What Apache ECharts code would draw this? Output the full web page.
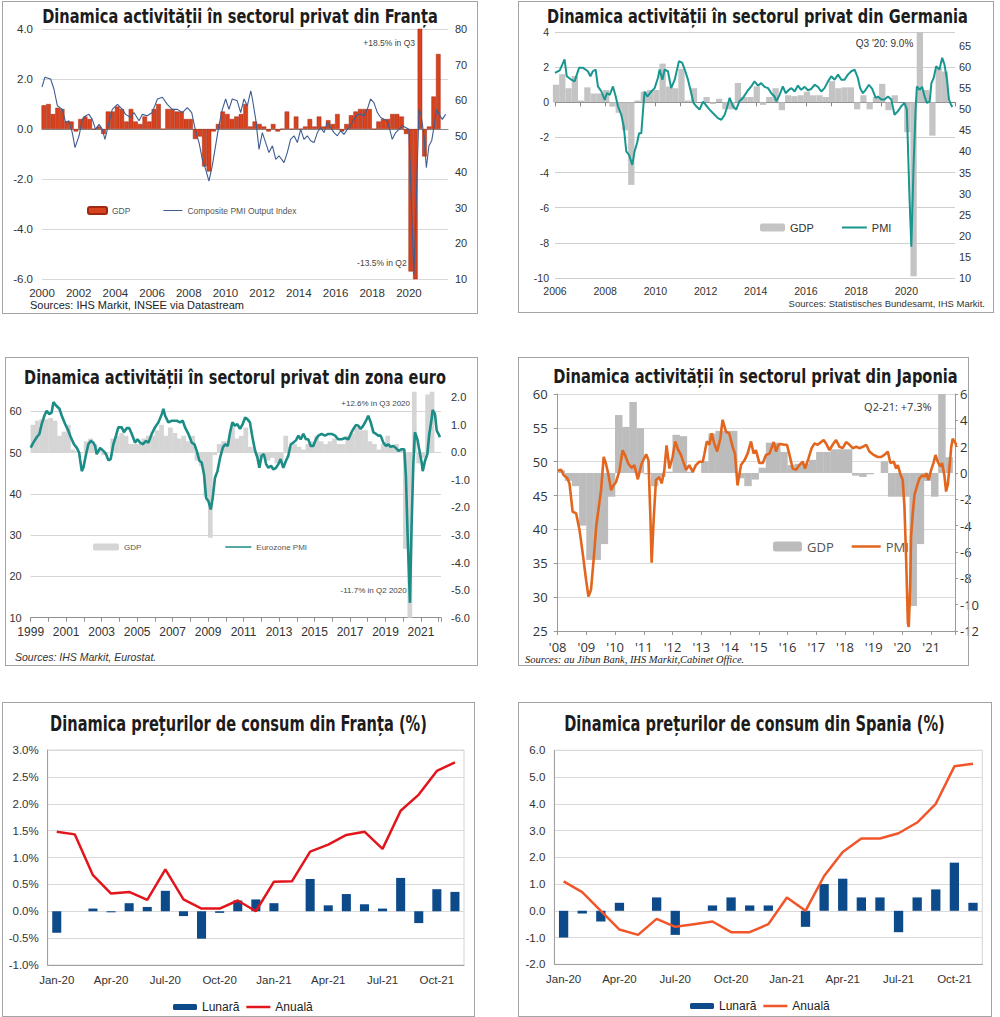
<!DOCTYPE html>
<html lang="ro">
<head>
<meta charset="utf-8">
<title>Dinamica activității și a prețurilor</title>
<script src="https://cdn.jsdelivr.net/npm/echarts@6/dist/echarts.min.js"></script>
<style>
html,body{margin:0;padding:0;background:#fff;}
body{width:1000px;height:1017px;position:relative;overflow:hidden;}
.chart{position:absolute;}
.frame{position:absolute;box-sizing:border-box;border:1px solid #a3a3a3;pointer-events:none;}
</style>
</head>
<body>
<div class="chart" id="c1" style="left:2px;top:1px;width:476px;height:313px"></div>
<div class="chart" id="c2" style="left:518px;top:1px;width:476px;height:312px"></div>
<div class="chart" id="c3" style="left:5px;top:357px;width:473px;height:309px"></div>
<div class="chart" id="c4" style="left:518px;top:357px;width:475px;height:309px"></div>
<div class="chart" id="c5" style="left:2px;top:702px;width:473px;height:315px"></div>
<div class="chart" id="c6" style="left:518px;top:702px;width:474px;height:315px"></div>
<div class="frame" style="left:2px;top:1px;width:476px;height:313px"></div>
<div class="frame" style="left:518px;top:1px;width:476px;height:312px"></div>
<div class="frame" style="left:5px;top:357px;width:473px;height:309px"></div>
<div class="frame" style="left:518px;top:357px;width:451px;height:309px"></div>
<div class="frame" style="left:2px;top:702px;width:473px;height:315px"></div>
<div class="frame" style="left:518px;top:702px;width:474px;height:315px"></div>
<script>
// ================= DATA =================
// --- France: GDP q/q % (quarterly from 2000 Q1) and Composite PMI (date, value)
const frGdpStart = 2000;
const frGdp = [
  0.95, 1.0, 0.6, 0.85,   0.8, 0.3, 0.3, -0.1,   0.4, 0.5, 0.4, 0.0,   0.1, -0.2, 0.7, 0.7,
  0.9, 0.8, 0.3, 0.8,     0.3, 0.2, 0.5, 0.3,    0.8, 1.0, 0.0, 0.8,   0.8, 0.7, 0.7, 0.4,
  0.4, -0.4, -0.3, -1.5,  -1.7, -0.1, 0.2, 0.7,  0.6, 0.4, 0.5, 0.6,   1.0, 0.1, 0.3, 0.2,
  0.1, -0.1, 0.2, -0.1,   0.0, 0.7, 0.0, 0.5,    0.0, 0.1, 0.4, 0.1,   0.5, 0.1, 0.35, 0.2,
  0.6, -0.1, 0.2, 0.55,   0.7, 0.8, 0.8, 0.8,    0.0, 0.3, 0.4, 0.4,   0.6, 0.6, 0.5, -0.2,
  -5.7, -13.5, 18.5, -1.1, 0.1, 1.3, 3.0
];
const frPmi = [
  [2000.0,63.7],[2000.16,66.5],[2000.47,66.0],[2000.65,63.2],[2000.84,58.5],[2001.11,57.5],[2001.29,53.8],[2001.47,54.3],
  [2001.65,51.0],[2001.8,46.8],[2002.02,50.1],[2002.2,54.7],[2002.38,55.7],[2002.56,56.1],[2002.74,54.7],[2002.92,51.9],
  [2003.11,53.3],[2003.29,51.9],[2003.43,49.1],[2003.65,53.8],[2003.83,57.5],[2004.11,58.9],[2004.38,57.5],[2004.56,56.1],
  [2004.83,55.2],[2005.01,56.6],[2005.29,54.3],[2005.47,56.1],[2005.74,55.7],[2006.01,56.6],[2006.29,60.4],[2006.56,60.9],
  [2006.83,58.9],[2007.1,57.5],[2007.38,57.5],[2007.65,56.6],[2007.92,58.0],[2008.16,56.6],[2008.37,51.5],[2008.56,48.2],
  [2008.74,43.5],[2008.92,40.7],[2009.1,37.4],[2009.28,41.7],[2009.46,47.3],[2009.64,52.9],[2009.83,57.5],[2010.01,60.4],
  [2010.19,57.5],[2010.37,60.4],[2010.64,59.9],[2010.83,56.6],[2011.01,60.4],[2011.19,58.5],[2011.38,62.7],[2011.47,60.4],
  [2011.65,54.7],[2011.83,46.3],[2012.01,51.0],[2012.19,48.2],[2012.37,45.4],[2012.56,47.3],[2012.74,43.5],[2012.92,44.5],
  [2013.19,42.6],[2013.37,45.4],[2013.55,49.1],[2013.74,50.1],[2013.92,48.2],[2014.1,51.9],[2014.28,49.1],[2014.46,50.1],
  [2014.64,48.7],[2014.83,48.2],[2015.01,51.0],[2015.19,52.4],[2015.37,51.0],[2015.55,53.8],[2015.73,52.4],[2015.92,51.0],
  [2016.1,50.1],[2016.28,51.5],[2016.46,50.5],[2016.64,51.9],[2016.82,52.9],[2017.01,54.7],[2017.19,56.1],[2017.37,56.1],
  [2017.55,55.7],[2017.73,57.5],[2017.91,60.4],[2018.09,59.4],[2018.28,56.6],[2018.46,55.2],[2018.64,54.7],[2018.82,54.3],
  [2019.0,51.0],[2019.09,49.1],[2019.28,51.0],[2019.46,51.9],[2019.64,52.9],[2019.82,52.4],[2020.0,51.9],[2020.15,29.0],
  [2020.27,11.1],[2020.4,32.0],[2020.55,57.5],[2020.66,56.0],[2020.82,50.1],[2020.95,41.2],[2021.09,47.3],[2021.24,48.7],
  [2021.36,52.4],[2021.51,57.5],[2021.64,56.1],[2021.82,54.7],[2022.0,56.1]
];

// --- Germany: GDP q/q % (quarterly from 2006 Q1) and PMI
const deGdpStart = 2006;
const deGdp = [
  1.0, 1.6, 0.8, 1.5,    0.1, 0.85, 0.5, 0.5,   0.7, -0.25, -0.6, -1.6,  -4.7, 0.1, 0.6, 0.7,
  0.7, 2.2, 0.9, 0.8,    1.9, 0.1, 0.8, 0.0,    0.3, -0.1, 0.2, -0.4,    -0.4, 1.1, 0.3, 0.3,
  0.9, -0.15, 0.3, 0.8,  -0.45, 0.4, 0.35, 0.4, 0.6, 0.4, 0.4, 0.3,      1.2, 0.8, 0.85, 0.85,
  -0.4, 0.4, -0.4, 0.3,  1.05, -0.45, 0.4, 0.0, -1.7, -9.9, 9.0, 0.7,    -1.9, 2.0, 1.75
];
const dePmi = [
  [2006.0,58.6],[2006.19,59.2],[2006.38,61.8],[2006.47,57.8],[2006.65,57.0],[2006.78,56.6],[2006.96,59.8],[2007.12,59.8],
  [2007.31,59.0],[2007.41,57.8],[2007.51,59.0],[2007.62,59.4],[2007.71,55.4],[2007.85,54.2],[2007.98,52.2],[2008.07,53.8],
  [2008.18,53.4],[2008.31,55.4],[2008.42,53.0],[2008.51,50.7],[2008.64,48.7],[2008.74,45.9],[2008.84,40.0],[2008.95,39.2],
  [2009.08,36.8],[2009.17,40.0],[2009.27,42.0],[2009.35,44.3],[2009.44,44.3],[2009.51,49.9],[2009.57,54.2],[2009.68,53.0],
  [2009.84,54.2],[2009.97,55.0],[2010.1,57.4],[2010.17,59.4],[2010.28,57.0],[2010.37,59.4],[2010.5,59.0],[2010.63,55.0],
  [2010.77,57.0],[2010.94,61.4],[2011.07,61.0],[2011.17,59.4],[2011.3,57.0],[2011.43,53.8],[2011.52,51.5],[2011.63,50.7],
  [2011.76,49.9],[2011.9,51.8],[2012.0,51.1],[2012.16,49.9],[2012.36,48.7],[2012.49,47.9],[2012.63,47.5],[2012.76,48.7],
  [2012.85,50.3],[2012.96,52.7],[2013.09,50.7],[2013.22,49.9],[2013.35,51.9],[2013.49,52.7],[2013.69,54.5],[2013.82,55.4],
  [2013.95,56.6],[2014.09,55.6],[2014.22,56.2],[2014.35,55.3],[2014.49,55.0],[2014.62,53.8],[2014.75,53.0],[2014.82,51.9],
  [2014.95,53.4],[2015.08,55.4],[2015.19,53.8],[2015.32,54.6],[2015.42,55.0],[2015.55,54.2],[2015.68,55.6],[2015.81,54.6],
  [2015.95,55.3],[2016.08,54.5],[2016.21,54.8],[2016.35,55.8],[2016.48,55.3],[2016.61,54.2],[2016.74,55.0],[2016.88,56.6],
  [2017.01,57.8],[2017.14,57.0],[2017.28,58.2],[2017.41,57.0],[2017.54,57.0],[2017.67,58.2],[2017.81,59.0],[2017.94,59.4],
  [2018.07,57.4],[2018.16,55.0],[2018.27,53.8],[2018.38,54.6],[2018.51,55.8],[2018.64,54.8],[2018.78,52.7],[2018.87,53.0],
  [2019.0,52.3],[2019.13,52.3],[2019.27,53.0],[2019.4,52.3],[2019.53,48.7],[2019.66,49.5],[2019.8,50.7],[2019.93,51.5],
  [2020.02,49.9],[2020.13,28.5],[2020.2,17.4],[2020.29,36.8],[2020.37,49.9],[2020.42,55.4],[2020.53,54.6],[2020.63,55.3],
  [2020.73,53.0],[2020.82,51.5],[2020.93,51.8],[2021.0,56.2],[2021.09,57.4],[2021.19,60.2],[2021.32,59.4],[2021.43,62.2],
  [2021.52,60.6],[2021.62,57.0],[2021.7,52.3],[2021.75,51.5],[2021.83,50.5]
];

// --- Euro area: GDP q/q % (quarterly from 1999 Q1) and Eurozone PMI
const euGdpStart = 1999;
const euGdp = [
  1.0, 1.15, 1.2, 1.2,   1.25, 1.15, 0.6, 0.75,  1.0, 0.1, 0.05, 0.0,   0.4, 0.5, 0.3, 0.1,
  -0.1, 0.0, 0.5, 0.6,   0.7, 0.6, 0.3, 0.3,     0.3, 0.5, 0.6, 0.6,    0.8, 1.0, 0.6, 0.9,
  0.7, 0.5, 0.6, 0.4,    0.6, -0.3, -0.5, -1.6,  -3.1, -0.1, 0.3, 0.4,  0.4, 1.0, 0.5, 0.6,
  0.9, 0.2, 0.1, -0.3,   -0.1, -0.3, -0.2, -0.4, -0.3, 0.6, 0.2, 0.3,   0.2, 0.1, 0.3, 0.4,
  0.6, 0.4, 0.3, 0.4,    0.5, 0.3, 0.3, 0.6,     0.7, 0.9, 0.8, 0.8,    0.4, 0.3, 0.1, 0.3,
  0.6, 0.2, 0.3, 0.1,    -3.5, -11.7, 12.6, -0.4, -0.2, 2.1, 2.3
];
const euPmi = [
  [1999.0,51.2],[1999.15,52.4],[1999.34,53.7],[1999.49,54.5],[1999.62,56.9],[1999.77,58.9],[1999.9,60.1],[2000.05,59.3],
  [2000.18,59.7],[2000.28,62.2],[2000.43,61.4],[2000.62,60.6],[2000.75,58.9],[2000.94,56.9],[2001.12,55.3],[2001.26,53.7],
  [2001.44,52.0],[2001.59,51.2],[2001.73,50.0],[2001.78,48.4],[2001.88,45.5],[2001.97,46.3],[2002.12,49.6],[2002.25,52.0],
  [2002.38,52.8],[2002.53,52.4],[2002.63,51.6],[2002.72,49.6],[2002.82,50.4],[2002.91,51.1],[2003.1,50.4],[2003.25,49.6],
  [2003.38,48.1],[2003.51,48.4],[2003.66,52.0],[2003.81,54.1],[2003.94,56.1],[2004.13,56.1],[2004.26,54.9],[2004.41,55.9],
  [2004.56,55.9],[2004.7,54.5],[2004.88,52.4],[2005.02,53.2],[2005.17,52.4],[2005.32,52.0],[2005.5,52.8],[2005.64,52.4],
  [2005.82,54.5],[2006.01,56.1],[2006.2,57.3],[2006.39,59.3],[2006.48,60.6],[2006.58,58.9],[2006.76,57.3],[2006.95,57.7],
  [2007.23,57.7],[2007.42,57.3],[2007.57,57.7],[2007.7,56.1],[2007.89,54.5],[2008.08,52.4],[2008.23,52.0],[2008.36,50.4],
  [2008.51,48.0],[2008.64,47.6],[2008.77,44.7],[2008.89,39.0],[2009.02,38.2],[2009.15,36.2],[2009.26,39.0],[2009.39,43.9],
  [2009.53,45.5],[2009.68,48.8],[2009.83,51.2],[2009.96,52.0],[2010.11,51.6],[2010.24,54.9],[2010.37,57.3],[2010.52,56.5],
  [2010.65,56.9],[2010.8,55.7],[2010.95,56.9],[2011.09,58.5],[2011.21,58.1],[2011.36,57.3],[2011.5,53.7],[2011.65,50.4],
  [2011.78,48.8],[2011.89,46.3],[2012.02,49.2],[2012.15,49.6],[2012.27,47.2],[2012.4,46.3],[2012.55,46.8],[2012.68,45.9],
  [2012.83,46.3],[2012.96,47.2],[2013.09,48.4],[2013.24,46.3],[2013.39,48.0],[2013.52,49.2],[2013.66,52.0],[2013.81,52.4],
  [2013.96,53.0],[2014.09,54.1],[2014.22,53.2],[2014.37,54.5],[2014.52,53.2],[2014.65,53.2],[2014.78,51.6],[2014.93,51.6],
  [2015.08,53.2],[2015.22,54.1],[2015.4,54.5],[2015.59,54.1],[2015.78,54.5],[2015.97,54.5],[2016.16,54.1],[2016.34,53.2],
  [2016.53,53.2],[2016.72,53.5],[2016.91,53.2],[2017.04,54.5],[2017.19,55.7],[2017.34,56.7],[2017.47,56.5],[2017.6,55.7],
  [2017.75,56.5],[2017.9,57.7],[2018.03,58.9],[2018.17,57.3],[2018.32,54.9],[2018.47,54.5],[2018.6,54.1],[2018.73,54.1],
  [2018.88,52.4],[2019.03,51.6],[2019.16,52.0],[2019.29,51.4],[2019.44,51.6],[2019.59,51.1],[2019.73,50.4],[2019.91,50.8],
  [2020.06,50.8],[2020.15,44.5],[2020.25,29.7],[2020.38,13.6],[2020.47,31.9],[2020.57,47.2],[2020.66,54.9],[2020.8,53.2],
  [2020.95,49.6],[2021.04,47.6],[2021.1,45.5],[2021.23,48.0],[2021.36,49.6],[2021.47,54.5],[2021.6,58.1],[2021.66,60.3],
  [2021.79,59.3],[2021.89,55.3],[2021.98,54.6],[2022.07,53.7]
];

// --- Japan: GDP y/y % (quarterly from 2008 Q1) and PMI
const jpGdpStart = 2008;
const jpGdp = [
  0.2, -0.6, -1.0, -4.0,  -6.6, -6.6, -5.4, -1.8,  4.4, 3.5, 5.4, 3.4,   -0.1, -1.0, -0.3, 0.1,
  2.9, 2.8, 0.1, 0.0,     0.9, 3.0, 3.2, 3.2,      3.2, -0.4, -1.0, -0.5, 0.4, 2.3, 2.3, 1.6,
  0.6, 0.7, 0.7, 1.0,     1.6, 1.6, 1.8, 1.8,      1.8, -0.2, -0.3, -0.1, 0.0, 0.9, -1.8, -1.8,
  -1.8, -10.1, -5.4, -0.6, -1.8, 7.3, 1.2
];
const jpPmi = [
  [2008.0,48.7],[2008.12,48.8],[2008.21,48.0],[2008.33,47.6],[2008.41,46.8],[2008.52,42.6],[2008.64,42.4],[2008.76,39.9],
  [2008.87,36.5],[2008.99,32.5],[2009.07,30.1],[2009.16,31.1],[2009.25,35.5],[2009.34,40.4],[2009.43,43.3],[2009.51,45.8],
  [2009.6,50.7],[2009.68,49.7],[2009.76,48.2],[2009.86,45.8],[2009.94,46.5],[2010.03,47.0],[2010.15,48.7],[2010.26,51.7],
  [2010.35,50.9],[2010.46,49.7],[2010.58,49.1],[2010.67,49.5],[2010.79,47.4],[2010.92,49.7],[2011.08,51.1],[2011.16,50.2],
  [2011.23,41.4],[2011.27,35.1],[2011.34,41.4],[2011.42,47.3],[2011.54,47.7],[2011.62,46.8],[2011.71,48.7],[2011.79,52.4],
  [2011.89,49.0],[2012.0,50.7],[2012.09,53.0],[2012.2,51.7],[2012.29,51.0],[2012.47,48.8],[2012.58,49.5],[2012.7,48.5],
  [2012.81,49.5],[2012.93,50.0],[2013.05,50.0],[2013.1,51.0],[2013.19,53.0],[2013.28,52.5],[2013.36,54.2],[2013.45,52.7],
  [2013.55,51.5],[2013.66,53.4],[2013.74,56.2],[2013.86,54.4],[2013.97,54.2],[2014.09,52.2],[2014.17,51.2],[2014.26,46.5],
  [2014.38,49.5],[2014.5,50.2],[2014.61,51.2],[2014.73,53.0],[2014.82,51.2],[2014.9,51.7],[2015.02,49.8],[2015.14,49.8],
  [2015.25,51.0],[2015.37,51.2],[2015.52,52.9],[2015.6,51.5],[2015.68,52.5],[2015.78,52.6],[2015.87,52.5],[2015.98,52.5],
  [2016.07,51.0],[2016.18,49.0],[2016.3,48.8],[2016.41,49.5],[2016.53,50.0],[2016.61,49.0],[2016.73,50.5],[2016.84,52.0],
  [2016.94,52.7],[2017.05,52.5],[2017.17,52.9],[2017.26,53.2],[2017.34,52.7],[2017.46,51.7],[2017.57,52.5],[2017.69,53.2],
  [2017.81,52.2],[2017.92,52.0],[2018.04,52.9],[2018.16,52.5],[2018.27,52.0],[2018.39,52.2],[2018.5,52.0],[2018.62,52.2],
  [2018.74,52.5],[2018.85,51.5],[2019.0,51.0],[2019.14,50.7],[2019.26,50.7],[2019.37,51.0],[2019.49,51.5],[2019.58,49.8],
  [2019.7,50.0],[2019.78,49.0],[2019.84,49.5],[2019.92,48.3],[2020.01,47.3],[2020.07,43.4],[2020.13,35.5],[2020.19,26.1],
  [2020.22,25.6],[2020.27,31.5],[2020.3,38.9],[2020.36,42.4],[2020.42,45.1],[2020.5,46.3],[2020.59,47.5],[2020.69,48.0],
  [2020.77,47.8],[2020.83,48.3],[2020.91,47.3],[2021.0,48.8],[2021.08,49.8],[2021.15,51.0],[2021.23,50.0],[2021.31,49.3],
  [2021.38,49.8],[2021.46,48.0],[2021.52,45.6],[2021.58,46.6],[2021.64,49.3],[2021.7,52.2],[2021.75,53.4],[2021.85,52.7],
  [2021.89,52.2]
];

// --- Consumer prices (monthly, Jan-20 .. Nov-21)
const cpiMonths = ['Jan-20','Feb-20','Mar-20','Apr-20','May-20','Jun-20','Jul-20','Aug-20','Sep-20','Oct-20','Nov-20','Dec-20',
                   'Jan-21','Feb-21','Mar-21','Apr-21','May-21','Jun-21','Jul-21','Aug-21','Sep-21','Oct-21','Nov-21'];
const frCpiMonthly = [-0.4, 0.0, 0.05, -0.02, 0.15, 0.08, 0.38, -0.09, -0.51, -0.03, 0.2, 0.22,
                      0.15, 0.0, 0.6, 0.11, 0.32, 0.13, 0.05, 0.62, -0.22, 0.41, 0.36];
const frCpiAnnual  = [1.48, 1.43, 0.67, 0.33, 0.36, 0.21, 0.78, 0.22, 0.05, 0.05, 0.2, 0.0,
                      0.55, 0.56, 1.11, 1.24, 1.42, 1.48, 1.16, 1.87, 2.17, 2.61, 2.77];
const esCpiMonthly = [-1.0, -0.1, -0.4, 0.3, 0.0, 0.5, -0.9, 0.0, 0.2, 0.5, 0.2, 0.2,
                      0.0, -0.6, 1.0, 1.2, 0.5, 0.5, -0.8, 0.5, 0.8, 1.8, 0.3];
const esCpiAnnual  = [1.1, 0.7, 0.0, -0.7, -0.9, -0.3, -0.6, -0.5, -0.4, -0.8, -0.8, -0.5,
                      0.5, 0.0, 1.3, 2.2, 2.7, 2.7, 2.9, 3.3, 4.0, 5.4, 5.5];

// ================= STYLE HELPERS =================
const NARROW = "'Liberation Sans Narrow','Arial Narrow','Liberation Sans',Arial,sans-serif";
const ARIAL = "'Liberation Sans',Arial,sans-serif";
const OPEN = "'Open Sans','Noto Sans',sans-serif";
const SERIF = "'Liberation Serif','Times New Roman',serif";
const TITLE_FONT = "'Liberation Sans Narrow','DejaVu Sans Condensed','Liberation Sans',sans-serif";

const measureCtx = document.createElement('canvas').getContext('2d');
function fitScale(text, font, width) {
  measureCtx.font = font;
  return width / measureCtx.measureText(text).width;
}
function titleG(text, cx, cy, width, size) {
  const font = 'bold ' + size + 'px ' + TITLE_FONT;
  return { type: 'text', x: cx, y: cy, scaleX: fitScale(text, font, width), silent: true, z: 100,
    style: { text: text, x: 0, y: 0, font: font, fill: '#1c1c1c', align: 'center', verticalAlign: 'middle',
             textAlign: 'center', textVerticalAlign: 'middle' } };
}
function textG(text, x, y, font, color, align) {
  return { type: 'text', x: x, y: y, silent: true, z: 100,
    style: { text: text, x: 0, y: 0, font: font, fill: color, align: align, verticalAlign: 'middle',
             textAlign: align, textVerticalAlign: 'middle' } };
}
// legend icon: a plain horizontal stroke (no marker) of thickness t inside a w x h box
function lineIcon(w, h, t) {
  const a = (h - t) / 2, b = (h + t) / 2;
  return 'path://M0,0L' + w + ',0L' + w + ',0.01Z' +
         'M0,' + a + 'L' + w + ',' + a + 'L' + w + ',' + b + 'L0,' + b + 'Z' +
         'M0,' + (h - 0.01) + 'L' + w + ',' + h + 'L0,' + h + 'Z';
}
function lineLegendItem(name, w, h, t) {
  return { name: name, icon: lineIcon(w, h, t), itemStyle: { borderWidth: 0, borderColor: 'rgba(0,0,0,0)' } };
}
function quarterly(start, values, offset) {
  return values.map((v, i) => [start + i * 0.25 + offset, v]);
}
function onStep(v, s) { return Math.abs(v / s - Math.round(v / s)) < 1e-6; }
function gridOf(g) { return Object.assign({ containLabel: false, outerBoundsMode: 'none' }, g); }
function render(id, option) {
  const chart = echarts.init(document.getElementById(id), null, { renderer: 'svg' });
  chart.setOption(Object.assign({ animation: false }, option));
}

// ================= CHART 1: France activity =================
(function () {
  const g = { left: 40, top: 28, width: 406, height: 250 };
  const xmin = 2000, xmax = 2022.13;
  const qpx = g.width / (xmax - xmin) / 4;
  render('c1', {
    grid: gridOf(g),
    xAxis: [
      { type: 'value', min: xmin, max: xmax, interval: 2, axisLine: { show: false, onZero: false }, axisTick: { show: false },
        splitLine: { show: false },
        axisLabel: { margin: 8, color: '#333', fontFamily: NARROW, fontSize: 11.5,
                     formatter: v => (onStep(v, 2) && v <= 2020.5) ? String(Math.round(v)) : '' } },
      { type: 'value', min: xmin, max: xmax, position: 'bottom',
        axisLine: { show: true, onZero: true, lineStyle: { color: '#8a8a8a', width: 1 } },
        axisTick: { show: false }, axisLabel: { show: false }, splitLine: { show: false } }
    ],
    yAxis: [
      { type: 'value', min: -6, max: 4, interval: 2, axisLine: { show: false }, axisTick: { show: false },
        splitLine: { show: true, lineStyle: { color: '#d8d8d8' } },
        axisLabel: { margin: 9, color: '#333', fontFamily: NARROW, fontSize: 11.5, formatter: v => v.toFixed(1) } },
      { type: 'value', min: 10, max: 80, interval: 10, position: 'right', axisLine: { show: false }, axisTick: { show: false },
        splitLine: { show: false }, axisLabel: { margin: 7, color: '#333', fontFamily: ARIAL, fontSize: 11 } }
    ],
    legend: { left: 85, top: 205, padding: 0, itemWidth: 19, itemHeight: 7, itemGap: 33, selectedMode: false,
      textStyle: { fontSize: 8.5, color: '#555', fontFamily: NARROW },
      data: ['GDP', lineLegendItem('Composite PMI Output Index', 19, 7, 1.1)] },
    series: [
      { name: 'GDP', type: 'bar', xAxisIndex: 0, yAxisIndex: 0, barWidth: qpx, data: quarterly(frGdpStart, frGdp, 0.1),
        itemStyle: { color: '#d8421e', borderColor: '#9f2a12', borderWidth: 0.5 } },
      { name: 'Composite PMI Output Index', type: 'line', xAxisIndex: 0, yAxisIndex: 1, symbol: 'none', data: frPmi, z: 4,
        lineStyle: { color: '#3f5d90', width: 1.1 }, itemStyle: { color: '#3f5d90' } }
    ],
    graphic: [
      titleG('Dinamica activității în sectorul privat din Franța', 238, 14.7, 396, 20),
      textG('+18.5% in Q3', 413, 41.7, '8.5px ' + NARROW, '#444', 'right'),
      textG('-13.5% in Q2', 404.7, 262.3, '8.5px ' + NARROW, '#444', 'right'),
      textG('Sources: IHS Markit, INSEE via Datastream', 28, 304, '11px ' + ARIAL, '#222', 'left')
    ]
  });
})();

// ================= CHART 2: Germany activity =================
(function () {
  const g = { left: 37, top: 31, width: 400, height: 246 };
  const xmin = 2006, xmax = 2021.94;
  const qpx = g.width / (xmax - xmin) / 4;
  render('c2', {
    grid: gridOf(g),
    xAxis: [
      { type: 'value', min: xmin, max: xmax, interval: 2, axisLine: { show: false, onZero: false }, axisTick: { show: false },
        splitLine: { show: false },
        axisLabel: { margin: 7, color: '#333', fontFamily: ARIAL, fontSize: 10.5,
                     formatter: v => (onStep(v, 2) && v <= 2020.5) ? String(Math.round(v)) : '' } },
      { type: 'value', min: xmin, max: xmax, interval: 1, position: 'bottom',
        axisLine: { show: true, onZero: true, lineStyle: { color: '#808080', width: 1 } },
        axisTick: { show: true, length: 4, lineStyle: { color: '#808080' } }, axisLabel: { show: false }, splitLine: { show: false } }
    ],
    yAxis: [
      { type: 'value', min: -10, max: 4, interval: 2, axisLine: { show: false }, axisTick: { show: false },
        splitLine: { show: true, lineStyle: { color: '#cfcfcf' } },
        axisLabel: { margin: 6, color: '#333', fontFamily: ARIAL, fontSize: 10.5 } },
      { type: 'value', min: 10, max: 68.3, interval: 5, position: 'right', axisLine: { show: false }, axisTick: { show: false },
        splitLine: { show: false },
        axisLabel: { margin: 4, color: '#333', fontFamily: ARIAL, fontSize: 11, formatter: v => onStep(v, 5) ? String(Math.round(v)) : '' } }
    ],
    legend: { left: 242, top: 221, padding: 0, itemWidth: 25, itemHeight: 8, itemGap: 28, selectedMode: false,
      textStyle: { fontSize: 11, color: '#333', fontFamily: ARIAL },
      data: ['GDP', lineLegendItem('PMI', 25, 8, 2)] },
    series: [
      { name: 'GDP', type: 'bar', xAxisIndex: 0, yAxisIndex: 0, barWidth: qpx, data: quarterly(deGdpStart, deGdp, 0.04),
        itemStyle: { color: '#c4c4c4' } },
      { name: 'PMI', type: 'line', xAxisIndex: 0, yAxisIndex: 1, symbol: 'none', data: dePmi, z: 4,
        lineStyle: { color: '#189690', width: 2 }, itemStyle: { color: '#189690' } }
    ],
    graphic: [
      titleG('Dinamica activității în sectorul privat din Germania', 239.5, 14.7, 421, 20),
      textG("Q3 '20: 9.0%", 395.3, 42.3, '10px ' + ARIAL, '#333', 'right'),
      textG('Sources: Statistisches Bundesamt, IHS Markit.', 467, 302.3, '9.5px ' + NARROW, '#333', 'right')
    ]
  });
})();

// ================= CHART 3: Euro area activity =================
(function () {
  const g = { left: 25.7, top: 34.7, width: 410.3, height: 226 };
  const xmin = 1999, xmax = 2022.13;
  const qpx = g.width / (xmax - xmin) / 4;
  const gridColors = ['#d6d6d6', '#d6d6d6', '#d6d6d6', '#d6d6d6', '#d6d6d6', '#d6d6d6', 'rgba(0,0,0,0)'];
  render('c3', {
    grid: gridOf(g),
    xAxis: [
      { type: 'value', min: xmin, max: xmax, interval: 1,
        axisLine: { show: true, onZero: false, lineStyle: { color: '#8f8f8f' } },
        axisTick: { show: true, length: 4, lineStyle: { color: '#8f8f8f' } }, splitLine: { show: false },
        axisLabel: { margin: 8, color: '#333', fontFamily: NARROW, fontSize: 12,
                     formatter: v => (onStep(v, 1) && Math.round(v) % 2 === 1 && v <= 2021.5) ? String(Math.round(v)) : '' } }
    ],
    yAxis: [
      { type: 'value', min: 10, max: 64.73, interval: 10, axisLine: { show: false }, axisTick: { show: false },
        splitLine: { show: true, lineStyle: { color: gridColors } },
        axisLabel: { margin: 9, color: '#333', fontFamily: ARIAL, fontSize: 11, formatter: v => onStep(v, 10) ? String(Math.round(v)) : '' } },
      { type: 'value', min: -6, max: 2.2, interval: 1, position: 'right', axisLine: { show: false }, axisTick: { show: false },
        splitLine: { show: false },
        axisLabel: { margin: 10, color: '#333', fontFamily: ARIAL, fontSize: 11, formatter: v => onStep(v, 1) ? v.toFixed(1) : '' } }
    ],
    legend: { left: 88, top: 186, padding: 0, itemWidth: 26, itemHeight: 7, itemGap: 84, selectedMode: false,
      textStyle: { fontSize: 8, color: '#555', fontFamily: ARIAL },
      data: ['GDP', lineLegendItem('Eurozone PMI', 26, 7, 1.4)] },
    series: [
      { name: 'GDP', type: 'bar', xAxisIndex: 0, yAxisIndex: 1, barWidth: qpx + 0.3, data: quarterly(euGdpStart, euGdp, 0.125),
        itemStyle: { color: '#d5d5d5' } },
      { name: 'Eurozone PMI', type: 'line', xAxisIndex: 0, yAxisIndex: 0, symbol: 'none', data: euPmi, z: 4,
        lineStyle: { color: '#1b8c86', width: 2.6 }, itemStyle: { color: '#1b8c86' } }
    ],
    graphic: [
      titleG('Dinamica activității în sectorul privat din zona euro', 230, 19.7, 422, 20),
      textG('+12.6% in Q3 2020', 405, 46.3, '8px ' + ARIAL, '#444', 'right'),
      textG('-11.7% in Q2 2020', 401.7, 233, '8px ' + ARIAL, '#444', 'right'),
      textG('Sources: IHS Markit, Eurostat.', 10, 299.7, 'italic 10.5px ' + ARIAL, '#333', 'left')
    ]
  });
})();

// ================= CHART 4: Japan activity =================
(function () {
  const g = { left: 39.7, top: 37, width: 397.3, height: 237 };
  const xmin = 2008, xmax = 2021.83;
  const qpx = g.width / (xmax - xmin) / 4;
  render('c4', {
    grid: gridOf(g),
    xAxis: [
      { type: 'value', min: xmin, max: xmax, interval: 1,
        axisLine: { show: true, onZero: false, lineStyle: { color: '#9a9a9a' } },
        axisTick: { show: true, length: 4, lineStyle: { color: '#9a9a9a' } }, splitLine: { show: false },
        axisLabel: { margin: 9, color: '#333', fontFamily: OPEN, fontSize: 13,
                     formatter: v => (onStep(v, 1) && v <= 2021.5) ? "'" + String(Math.round(v)).slice(2) : '' } }
    ],
    yAxis: [
      { type: 'value', min: 25, max: 60, interval: 5,
        axisLine: { show: true, lineStyle: { color: '#9a9a9a' } }, axisTick: { show: true, length: 4, lineStyle: { color: '#9a9a9a' } },
        splitLine: { show: true, lineStyle: { color: '#dadada' } },
        axisLabel: { margin: 10, color: '#333', fontFamily: OPEN, fontSize: 13 } },
      { type: 'value', min: -12, max: 6, interval: 2, position: 'right',
        axisLine: { show: true, lineStyle: { color: '#9a9a9a' } }, axisTick: { show: true, length: 3, lineStyle: { color: '#9a9a9a' } },
        splitLine: { show: false },
        axisLabel: { margin: 5, color: '#333', fontFamily: OPEN, fontSize: 13 } }
    ],
    legend: { left: 255, top: 183, padding: 0, itemWidth: 29, itemHeight: 10, itemGap: 18, selectedMode: false,
      textStyle: { fontSize: 13, color: '#555', fontFamily: OPEN },
      data: ['GDP', lineLegendItem('PMI', 29, 10, 2.6)] },
    series: [
      { name: 'GDP', type: 'bar', xAxisIndex: 0, yAxisIndex: 1, barWidth: qpx + 0.3, data: quarterly(jpGdpStart, jpGdp, 0.125),
        itemStyle: { color: '#bcbcbc' } },
      { name: 'PMI', type: 'line', xAxisIndex: 0, yAxisIndex: 0, symbol: 'none', data: jpPmi, z: 4,
        lineStyle: { color: '#e2661d', width: 2.6 }, itemStyle: { color: '#e2661d' } }
    ],
    graphic: [
      titleG('Dinamica activității în sectorul privat din Japonia', 237.5, 19.2, 405, 20),
      textG('Q2-21: +7.3%', 413.7, 49.7, '11px ' + OPEN, '#333', 'right'),
      textG('Sources: au Jibun Bank, IHS Markit,Cabinet Office.', 7, 302, 'italic 10.5px ' + SERIF, '#222', 'left')
    ]
  });
})();

// ================= CHARTS 5 & 6: consumer prices =================
function cpiOption(cfg) {
  return {
    grid: gridOf(Object.assign({ show: true, borderColor: '#d4d4d4', borderWidth: 1, backgroundColor: 'transparent' }, cfg.grid)),
    xAxis: { type: 'category', data: cpiMonths, boundaryGap: true,
      axisLine: { show: true, onZero: false, lineStyle: { color: '#a0a0a0' } }, axisTick: { show: false },
      axisLabel: { interval: 2, margin: 9, color: '#333', fontFamily: ARIAL, fontSize: 11.5 } },
    yAxis: { type: 'value', min: cfg.min, max: cfg.max, interval: cfg.interval,
      axisLine: { show: true, lineStyle: { color: '#a0a0a0' } }, axisTick: { show: false },
      splitLine: { show: true, lineStyle: { color: '#d9d9d9' } },
      axisLabel: { margin: 9, color: '#333', fontFamily: ARIAL, fontSize: 11.5, formatter: cfg.fmt } },
    legend: { left: cfg.legendLeft, top: cfg.legendTop, padding: 0, itemWidth: 24, itemHeight: 6, itemGap: 7, selectedMode: false,
      textStyle: { fontSize: 12, color: '#222', fontFamily: ARIAL },
      data: ['Lunară', lineLegendItem('Anuală', 24, 6, 2.5)] },
    series: [
      { name: 'Lunară', type: 'bar', data: cfg.monthly, barWidth: '50%', itemStyle: { color: '#0d4a8a' } },
      { name: 'Anuală', type: 'line', data: cfg.annual, symbol: 'none', z: 4,
        lineStyle: { color: cfg.lineColor, width: 2.5 }, itemStyle: { color: cfg.lineColor } }
    ],
    graphic: [ titleG(cfg.title, 236.5, 21.5, cfg.titleWidth, 22) ]
  };
}
render('c5', cpiOption({
  grid: { left: 45.7, top: 48, width: 416.3, height: 215 },
  min: -1, max: 3, interval: 0.5, fmt: v => v.toFixed(1) + '%',
  monthly: frCpiMonthly, annual: frCpiAnnual, lineColor: '#e3151c',
  legendLeft: 171, legendTop: 299,
  title: 'Dinamica prețurilor de consum din Franța (%)', titleWidth: 377
}));
render('c6', cpiOption({
  grid: { left: 36.3, top: 48.3, width: 428, height: 214 },
  min: -2, max: 6, interval: 1, fmt: v => v.toFixed(1),
  monthly: esCpiMonthly, annual: esCpiAnnual, lineColor: '#f0562a',
  legendLeft: 172, legendTop: 298,
  title: 'Dinamica prețurilor de consum din Spania (%)', titleWidth: 381
}));
</script>
</body>
</html>
